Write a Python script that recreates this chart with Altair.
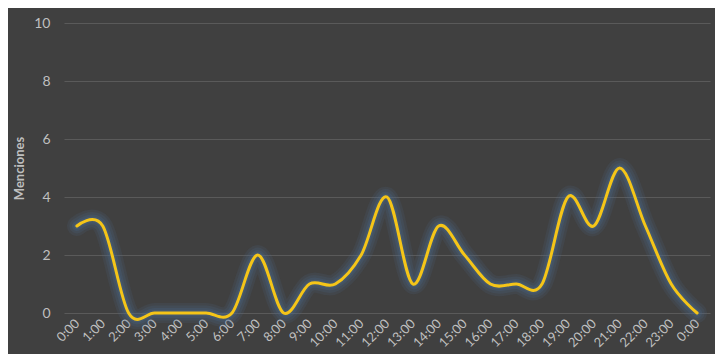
import altair as alt
import pandas as pd

hours = ["0:00", "1:00", "2:00", "3:00", "4:00", "5:00", "6:00", "7:00", "8:00", "9:00",
         "10:00", "11:00", "12:00", "13:00", "14:00", "15:00", "16:00", "17:00", "18:00",
         "19:00", "20:00", "21:00", "22:00", "23:00", "0:00"]
menciones = [3, 3, 0, 0, 0, 0, 0, 2, 0, 1, 1, 2, 4, 1, 3, 2, 1, 1, 1, 4, 3, 5, 3, 1, 0]

df = pd.DataFrame({"idx": list(range(len(hours))), "hora": hours, "menciones": menciones})

label_expr = "datum.value == 24 ? '0:00' : datum.value + ':00'"

x = alt.X("idx:Q",
          scale=alt.Scale(domain=[-0.5, 24.5], nice=False, zero=False),
          axis=alt.Axis(values=list(range(25)), labelExpr=label_expr, labelAngle=-45,
                        labelAlign="right", labelBaseline="middle", grid=False,
                        labelOverlap=False, labelBound=False,
                        domain=False, ticks=False, labelColor="#bfbfbf", labelFontSize=13,
                        labelFont="Lato", labelPadding=8, title=None))
y = alt.Y("menciones:Q",
          scale=alt.Scale(domain=[0, 10], nice=False),
          axis=alt.Axis(values=[0, 2, 4, 6, 8, 10], grid=True, gridColor="#5a5a5a",
                        domain=False, ticks=False, labelColor="#bfbfbf", labelFontSize=14,
                        labelFont="Lato", labelPadding=14, title="Menciones",
                        titleColor="#bfbfbf", titleFont="Lato", titleFontSize=13,
                        titleFontWeight="bold", titlePadding=7))

base = alt.Chart(df).encode(x=x, y=y)

glows = [
    base.mark_line(interpolate="cardinal", color="#4b6a8c", strokeWidth=w,
                   opacity=o, strokeCap="round", strokeJoin="round")
    for w, o in [(20, 0.14), (15, 0.17), (10, 0.22), (6, 0.28)]
]
line = base.mark_line(interpolate="cardinal", color="#f5c518", strokeWidth=3,
                      strokeCap="round", strokeJoin="round")

chart = alt.layer(*glows, line).properties(
    width=646, height=290,
    background="#404040",
    autosize=alt.AutoSizeParams(type="none"),
    padding={"left": 56, "top": 15, "right": 5, "bottom": 41},
).configure_view(stroke=None)

chart.save("out.html", embed_options={"renderer": "svg", "actions": False})
